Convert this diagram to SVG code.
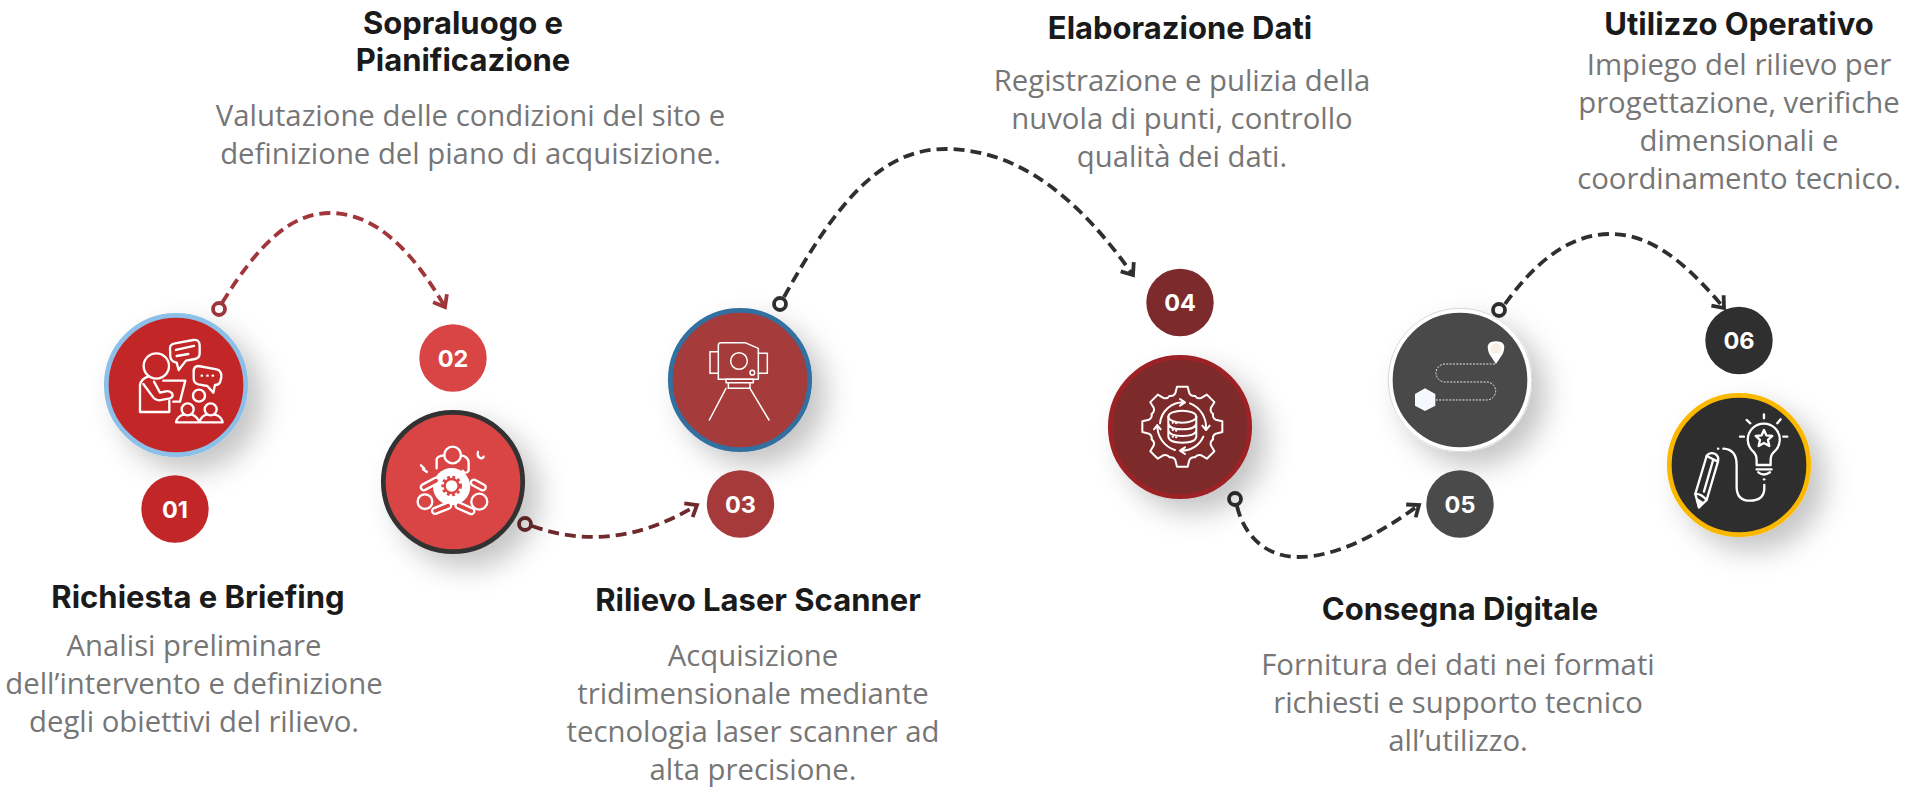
<svg xmlns="http://www.w3.org/2000/svg" xmlns:xlink="http://www.w3.org/1999/xlink" width="1920" height="800" viewBox="0 0 1920 800">
<style>
.title{font-family:"Inter","Liberation Sans",sans-serif;font-weight:700;font-size:31px;fill:#1a1a1a;text-anchor:middle}
.body{font-family:"Open Sans","Liberation Sans",sans-serif;font-size:29.3px;fill:#767676;text-anchor:middle}
.num{font-family:"Inter","Liberation Sans",sans-serif;font-weight:700;font-size:23.5px;fill:#fff;text-anchor:middle}
.disc{stroke-width:4.7;filter:url(#sh)}
.ic{fill:none;stroke:#fff;stroke-width:7;stroke-linecap:round;stroke-linejoin:round}
.conn{fill:none;stroke-width:3.8;stroke-dasharray:11 6}
.ring{fill:#fff;stroke-width:3.8}
</style>
<defs>
<filter id="sh" x="-40%" y="-40%" width="190%" height="190%"><feDropShadow dx="14" dy="14" stdDeviation="14" flood-color="#000" flood-opacity=".23"/></filter>
<marker id="a1" markerUnits="userSpaceOnUse" viewBox="-14 -11 18 22" markerWidth="18" markerHeight="22" refX="0" refY="0" orient="auto"><path d="M-10,-8L0,0L-10,8" fill="none" stroke="#a0353a" stroke-width="3.800"/></marker>
<marker id="a2" markerUnits="userSpaceOnUse" viewBox="-14 -11 18 22" markerWidth="18" markerHeight="22" refX="0" refY="0" orient="auto"><path d="M-10,-8L0,0L-10,8" fill="none" stroke="#6e2a2c" stroke-width="3.800"/></marker>
<marker id="a3" markerUnits="userSpaceOnUse" viewBox="-14 -11 18 22" markerWidth="18" markerHeight="22" refX="0" refY="0" orient="auto"><path d="M-10,-8L0,0L-10,8" fill="none" stroke="#2f2f2f" stroke-width="3.800"/></marker>
<path id="tooth" d="M-38,-92Q-27,-90 -21,-100L-16,-120H16L21,-100Q27,-90 38,-92"/>
</defs>
<rect width="1920" height="800" fill="#fff"/>

<g id="connectors">
<path class="conn" stroke="#a0353a" marker-end="url(#a1)" d="M222,303C258,245 290,213 330,213C375,213 412,250 445,307"/>
<path class="conn" stroke="#6e2a2c" marker-end="url(#a2)" d="M532,526C585,545 640,540 697,505"/>
<path class="conn" stroke="#2f2f2f" marker-end="url(#a3)" d="M784,297C835,205 880,149 945,149C1020,149 1080,200 1133,275"/>
<path class="conn" stroke="#2f2f2f" marker-end="url(#a3)" d="M1237,506C1245,540 1270,557 1298,557C1340,557 1385,530 1419,505"/>
<path class="conn" stroke="#2f2f2f" marker-end="url(#a3)" d="M1505,304C1535,262 1570,234 1610,234C1655,234 1690,268 1724,308"/>
<circle class="ring" stroke="#a0353a" cx="219" cy="309" r="6"/>
<circle class="ring" stroke="#6e2a2c" cx="525" cy="524" r="6"/>
<circle class="ring" stroke="#2f2f2f" cx="780" cy="304" r="6"/>
<circle class="ring" stroke="#2f2f2f" cx="1235" cy="499" r="6"/>
<circle class="ring" stroke="#2f2f2f" cx="1499" cy="310" r="6"/>
</g>

<g id="node-01">
<circle class="disc" cx="176" cy="385" r="69.7" fill="#c32626" stroke="#8cc0e8"/>
<g class="ic" transform="translate(80,180) scale(.3333)">
<circle cx="229" cy="558" r="38"/>
<path d="M268,662V696H180V615Q183,597 204,590"/>
<path d="M190,612L218,650Q228,664 245,660L270,655Q282,650 276,640Q270,632 258,634L240,638L222,605"/>
<path d="M250,602H316L300,665H280"/>
<path d="M285,490L340,480Q358,478 359,495V520Q359,535 345,537L318,542L296,570L290,548Q272,545 271,530L270,505Q270,492 285,490Z"/>
<path d="M288,510L342,498M290,528L325,522"/>
<path d="M355,558L410,568Q425,572 424,590L422,600Q420,615 405,615L400,638L382,618L355,613Q341,610 341,595V575Q341,558 355,558Z"/>
<path d="M365,587h1M382,587h1M398,587h1"/>
<circle cx="357" cy="647" r="18"/><circle cx="323" cy="688" r="18"/><circle cx="392" cy="688" r="18"/>
<path d="M288,727H428M288,727Q292,708 312,704M336,704Q352,710 358,727Q364,708 380,704M404,704Q424,708 428,727"/>
</g>
</g>
<g id="badge-01"><circle cx="175" cy="509" r="33.7" fill="#c32626"/><text class="num" x="175" y="517.500">01</text></g>
<g id="text-01">
<text class="title" x="198" y="608">Richiesta e Briefing</text>
<text class="body" x="194" y="656">Analisi preliminare</text>
<text class="body" x="194" y="694">dell’intervento e definizione</text>
<text class="body" x="194" y="732">degli obiettivi del rilievo.</text>
</g>

<g id="node-02">
<circle class="disc" cx="453" cy="482" r="69.7" fill="#d94444" stroke="#333"/>
<g class="ic" transform="translate(80,180) scale(.3333)">
<circle cx="1118" cy="825" r="25"/>
<path d="M1070,865V838Q1072,828 1093,826M1143,826Q1166,830 1166,848V872Q1158,885 1148,872"/>
<circle cx="1115" cy="920" r="56" fill="#fff" stroke="none"/>
<circle cx="1115" cy="918" r="26" fill="none" stroke="#d94444" stroke-width="10" stroke-dasharray="8 7.500" stroke-linecap="butt"/>
<circle cx="1115" cy="918" r="21" fill="none" stroke="#d94444" stroke-width="7"/>
<circle cx="1035" cy="965" r="22"/><circle cx="1198" cy="965" r="24"/>
<rect x="-30" y="-9" width="60" height="18" rx="9" transform="translate(1050,912) rotate(-28)" fill="#d94444"/>
<rect x="-30" y="-9" width="60" height="18" rx="9" transform="translate(1085,985) rotate(-22)" fill="#d94444"/>
<rect x="-24" y="-9" width="48" height="18" rx="9" transform="translate(1195,915) rotate(28)" fill="#d94444"/>
<rect x="-30" y="-9" width="60" height="18" rx="9" transform="translate(1155,985) rotate(24)" fill="#d94444"/>
<path d="M1023,856L1033,866L1029,868L1041,876"/>
<path d="M1194,816Q1190,830 1203,835Q1208,836 1211,830"/>
</g>
</g>
<g id="badge-02"><circle cx="453" cy="358" r="33.7" fill="#d94444"/><text class="num" x="453" y="366.500">02</text></g>
<g id="text-02">
<text class="title" x="463" y="34">Sopraluogo e</text>
<text class="title" x="463" y="71">Pianificazione</text>
<text class="body" x="470.500" y="126">Valutazione delle condizioni del sito e</text>
<text class="body" x="470.500" y="164">definizione del piano di acquisizione.</text>
</g>

<g id="node-03">
<circle class="disc" cx="740" cy="380" r="69.7" fill="#a63a3a" stroke="#336fa0"/>
<g class="ic" style="stroke-width:4.500" transform="translate(690,330) scale(.3333)">
<path d="M85,148V46Q85,38 93,38H165L205,55V148Z"/>
<path d="M85,65H60V130H85M205,70H232V130H205"/>
<circle cx="147" cy="93" r="25"/><circle cx="187" cy="128" r="7"/>
<path d="M108,148H190V158H108ZM115,158H180V175H115Z"/>
<path d="M108,175L58,270M180,175L237,270"/>
</g>
</g>
<g id="badge-03"><circle cx="740.500" cy="504" r="33.7" fill="#a63a3a"/><text class="num" x="740.500" y="512.500">03</text></g>
<g id="text-03">
<text class="title" x="758" y="611">Rilievo Laser Scanner</text>
<text class="body" x="753" y="666">Acquisizione</text>
<text class="body" x="753" y="704">tridimensionale mediante</text>
<text class="body" x="753" y="742">tecnologia laser scanner ad</text>
<text class="body" x="753" y="780">alta precisione.</text>
</g>

<g id="node-04">
<circle class="disc" cx="1180" cy="427" r="69.7" fill="#7d2a2c" stroke="#9c2428"/>
<g class="ic" style="stroke-width:6" transform="translate(1125,370) scale(.3333)">
<g transform="translate(172,170)">
<use xlink:href="#tooth"/><use xlink:href="#tooth" transform="rotate(45)"/><use xlink:href="#tooth" transform="rotate(90)"/><use xlink:href="#tooth" transform="rotate(135)"/><use xlink:href="#tooth" transform="rotate(180)"/><use xlink:href="#tooth" transform="rotate(225)"/><use xlink:href="#tooth" transform="rotate(270)"/><use xlink:href="#tooth" transform="rotate(315)"/>
</g>
<path d="M105,160A70,70 0 0 1 175,97M165,87L180,97L165,107"/>
<path d="M195,100A76,76 0 0 1 243,175M232,167L243,180L254,167"/>
<path d="M235,200A70,70 0 0 1 170,242M180,232L165,242L180,252"/>
<path d="M150,240A76,76 0 0 1 97,165M87,178L97,165L107,178"/>
<ellipse cx="172" cy="140" rx="42" ry="18"/>
<path d="M130,140V200Q132,218 172,218Q212,218 214,200V140M130,160Q132,178 172,178Q212,178 214,160M130,180Q132,198 172,198Q212,198 214,180"/>
<path d="M143,158h1M153,160h1M143,180h1M153,182h1M143,200h1M153,202h1"/>
</g>
</g>
<g id="badge-04"><circle cx="1180" cy="302.500" r="33.7" fill="#7d2a2c"/><text class="num" x="1180" y="311">04</text></g>
<g id="text-04">
<text class="title" x="1180" y="39">Elaborazione Dati</text>
<text class="body" x="1182" y="91">Registrazione e pulizia della</text>
<text class="body" x="1182" y="129">nuvola di punti, controllo</text>
<text class="body" x="1182" y="167">qualità dei dati.</text>
</g>

<g id="node-05">
<circle class="disc" cx="1460" cy="380" r="69.7" fill="#4a4a4a" stroke="#fff"/>
<circle cx="1460" cy="380" r="71.700" fill="none" stroke="#d8d8d8" stroke-width="1"/>
<g transform="translate(1360,220) scale(.3333)">
<path d="M405,432H255A27,27 0 0 0 255,486H380A27,27 0 0 1 380,540H226" fill="none" stroke="#e8e8e8" stroke-width="3" stroke-dasharray="6 4"/>
<path d="M408,432L388,402Q372,364 408,364Q444,364 428,402Z" fill="#fff"/>
<circle cx="408" cy="386" r="16" fill="#f8efe4"/>
<path d="M195,505L226,522V557L195,573L165,557V522Z" fill="#f5f8ff"/>
</g>
</g>
<g id="badge-05"><circle cx="1460" cy="504" r="33.7" fill="#4a4a4a"/><text class="num" x="1460" y="512.500">05</text></g>
<g id="text-05">
<text class="title" x="1460" y="620">Consegna Digitale</text>
<text class="body" x="1458" y="675">Fornitura dei dati nei formati</text>
<text class="body" x="1458" y="713">richiesti e supporto tecnico</text>
<text class="body" x="1458" y="751">all’utilizzo.</text>
</g>

<g id="node-06">
<circle class="disc" cx="1739" cy="465" r="69.7" fill="#2f2f2f" stroke="#fbb800"/>
<g class="ic" transform="translate(1360,220) scale(.3333)">
<path d="M1190,735V720Q1190,705 1180,695A48,48 0 1 1 1243,695Q1232,705 1232,720V735Z"/>
<path d="M1190,748H1235M1195,757Q1212,770 1230,757"/>
<path d="M1212,778h1"/>
<path d="M1212,630L1219,646L1237,648L1224,660L1228,678L1212,669L1196,678L1200,660L1187,648L1205,646Z"/>
<path d="M1212,583V595M1160,600L1171,610M1262,598L1252,610M1140,650H1152M1270,650H1282"/>
<path d="M1213,795V808Q1210,842 1170,842Q1130,842 1130,800V735Q1130,688 1090,686M1074,686h1"/>
<path d="M1017,862L1006,822L1040,708Q1050,695 1066,702Q1078,710 1074,725L1040,840Z"/>
<path d="M1040,708L1074,725M1006,822Q1022,820 1040,840M1032,815L1060,718"/>
<path d="M1017,862L1011,838L1027,848Z" fill="#fff"/>
</g>
</g>
<g id="badge-06"><circle cx="1739" cy="340.500" r="33.7" fill="#2f2f2f"/><text class="num" x="1739" y="349">06</text></g>
<g id="text-06">
<text class="title" x="1739" y="34.500">Utilizzo Operativo</text>
<text class="body" x="1739" y="75">Impiego del rilievo per</text>
<text class="body" x="1739" y="113">progettazione, verifiche</text>
<text class="body" x="1739" y="151">dimensionali e</text>
<text class="body" x="1739" y="189">coordinamento tecnico.</text>
</g>
</svg>
